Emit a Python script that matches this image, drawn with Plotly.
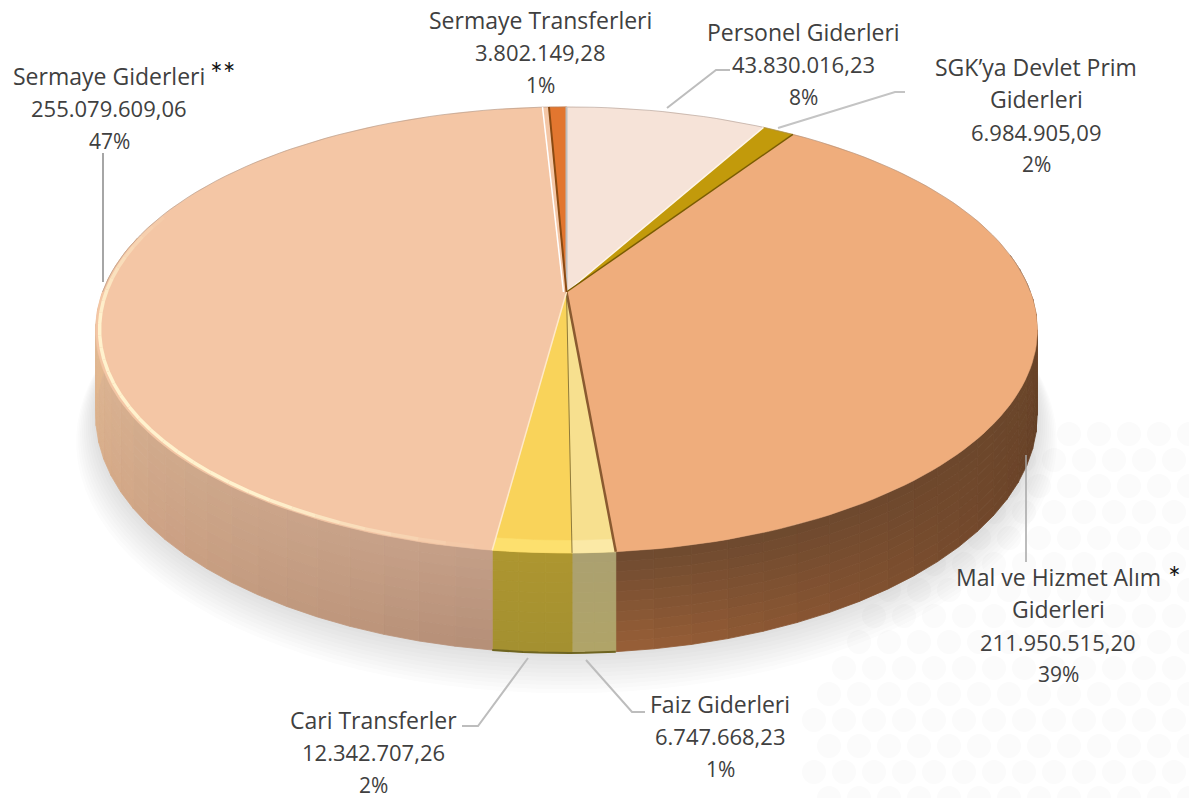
import math
import plotly.graph_objects as go

# ---------- data ----------
categories = ["Personel Giderleri", "SGK'ya Devlet Prim Giderleri", "Mal ve Hizmet Alım Giderleri",
              "Faiz Giderleri", "Cari Transferler", "Sermaye Giderleri", "Sermaye Transferleri"]
values = [43830016.23, 6984905.09, 211950515.20, 6747668.23, 12342707.26, 255079609.06, 3802149.28]
value_labels = ["43.830.016,23", "6.984.905,09", "211.950.515,20", "6.747.668,23",
                "12.342.707,26", "255.079.609,06", "3.802.149,28"]
percent_labels = ["8%", "2%", "39%", "1%", "2%", "47%", "1%"]
top_colors = ["#F6E3D8", "#C29A0B", "#EFAD7C", "#F7E08F", "#F9D35A", "#F4C6A5", "#E2762F"]

# ---------- geometry of the tilted disc (pixel space) ----------
CX, CY, A, B, K, H = 566.5, 292, 464, 216.6, 0.17, 83


def proj(deg, r=1.0, z=0.0):
    t = math.radians(deg)
    u, v = r * math.sin(t), -r * math.cos(t)
    w = 1 - K * v
    return CX + A * u / w, CY + (B * v + z) / w


def hex2rgb(c):
    return tuple(int(c[i:i + 2], 16) for i in (1, 3, 5))


def mix(c1, c2, t):
    a, b = hex2rgb(c1), hex2rgb(c2)
    return "rgb(%d,%d,%d)" % tuple(round(a[i] + (b[i] - a[i]) * t) for i in range(3))


def ramp(stops, x):
    if x <= stops[0][0]:
        return stops[0][1]
    for (x0, c0), (x1, c1) in zip(stops, stops[1:]):
        if x <= x1:
            c = mix(c0, c1, (x - x0) / (x1 - x0))
            return "#%02X%02X%02X" % tuple(int(p) for p in c[4:-1].split(","))
    return stops[-1][1]


wall_top = {
    2: [(90, "#6A4428"), (175, "#6E4A30")],
    3: [(0, "#ABA070")],
    4: [(0, "#AD9630")],
    5: [(188, "#C49F88"), (230, "#D0A98B"), (270, "#E6BE98")],
    0: [(0, "#E8D5C8")], 1: [(0, "#8A6E08")], 6: [(0, "#B05A20")],
}
wall_bot = {
    2: [(90, "#5A3A22"), (130, "#74492C"), (175, "#9A6038")],
    3: [(0, "#B0A468")],
    4: [(0, "#A49030")],
    5: [(188, "#B48E76"), (230, "#CCA184"), (270, "#E2B890")],
    0: [(0, "#E8D5C8")], 1: [(0, "#8A6E08")], 6: [(0, "#B05A20")],
}

total = sum(values)
edges = [0.0]
for val in values:
    edges.append(edges[-1] + val / total * 360)

fig = go.Figure()


def poly(xs, ys, color, lw=0.8):
    fig.add_trace(go.Scatter(x=xs, y=ys, mode="lines", fill="toself", fillcolor=color,
                             line=dict(color=color, width=lw), hoverinfo="skip", showlegend=False))


def line(xs, ys, color, width):
    fig.add_trace(go.Scatter(x=xs, y=ys, mode="lines", line=dict(color=color, width=width),
                             hoverinfo="skip", showlegend=False))


# faint honeycomb of the page background
gx, gy = [], []
for row_i in range(0, 16):
    for col in range(0, 20):
        px = 1189 - col * 30 - (row_i % 2) * 15
        py = 798 - row_i * 26
        if (px - 1189) ** 2 + (py - 798) ** 2 < 390 ** 2:
            gx.append(px)
            gy.append(py)
fig.add_trace(go.Scatter(x=gx, y=gy, mode="markers", marker=dict(size=24, color="#FBFBFB"),
                         hoverinfo="skip", showlegend=False))

# soft shadow
for i in range(10, 0, -1):
    pts = [proj(d, 1 + 0.004 * i, H + 2.2 * i) for d in range(0, 361, 3)]
    poly([p[0] for p in pts], [p[1] for p in pts], "rgba(60,60,60,0.016)", 0)

# side walls, split in short vertical strips
LAYERS = 10
for i in range(len(values)):
    s, e = max(edges[i], 80), min(edges[i + 1], 285)
    if e <= s:
        continue
    n = max(1, math.ceil((e - s) / 4))
    for j in range(n):
        d0, d1 = s + (e - s) * j / n, s + (e - s) * (j + 1) / n
        m = (d0 + d1) / 2
        ct, cb = ramp(wall_top[i], m), ramp(wall_bot[i], m)
        for l in range(LAYERS):
            z0, z1 = H * l / LAYERS, H * (l + 1) / LAYERS
            corners = [proj(d0, 1, z0), proj(d1, 1, z0), proj(d1, 1, z1), proj(d0, 1, z1), proj(d0, 1, z0)]
            poly([p[0] for p in corners], [p[1] for p in corners], mix(ct, cb, (l + 0.5) / LAYERS))

# bottom edge of the two yellow front slices
pts = [proj(edges[3] + (edges[5] - edges[3]) * j / 8, 1, H) for j in range(9)]
line([p[0] for p in pts], [p[1] for p in pts], "#6E6420", 2)

# top faces
for i, c in enumerate(top_colors):
    n = max(2, math.ceil((edges[i + 1] - edges[i]) / 1.5))
    pts = [proj(edges[i] + (edges[i + 1] - edges[i]) * j / n) for j in range(n + 1)]
    poly([CX] + [p[0] for p in pts] + [CX], [CY] + [p[1] for p in pts] + [CY], c, 0.5)

# lit bevel on the yellow slices
for i, c in ((3, "#FBE9A6"), (4, "#FDE06E")):
    n = 6
    o = [proj(edges[i] + (edges[i + 1] - edges[i]) * j / n, 1.0) for j in range(n + 1)]
    q = [proj(edges[i] + (edges[i + 1] - edges[i]) * j / n, 0.96) for j in range(n + 1)]
    poly([p[0] for p in o + q[::-1]], [p[1] for p in o + q[::-1]], c, 0.5)

# cream highlight on the front left rim
d = edges[5] + 2
while d < 290:
    a0 = min(1, (d - edges[5]) / 25) * min(1, (292 - d) / 30)
    seg = [proj(d, 0.992), proj(d + 3, 0.992)]
    line([p[0] for p in seg], [p[1] for p in seg], "rgba(255,244,208,%.2f)" % (0.95 * a0), 3.5)
    d += 3

# thin dark back rim
pts = [proj(d) for d in list(range(270, 360, 2)) + list(range(0, 91, 2))]
line([p[0] for p in pts], [p[1] for p in pts], "rgba(150,130,120,0.45)", 1)

# slice separators
sep = [(edges[0], "#BDBDBD", 2), (edges[1], "#FFF6EC", 1.5), (edges[2], "#7A5C00", 1.5),
       (edges[3], "#8A5A30", 2.5), (edges[4], "#8F7A3A", 1), (edges[5], "#FFE9C8", 1.5),
       (edges[6], "#8A4A12", 2)]
for deg, col, w in sep:
    p = proj(deg)
    line([CX, p[0]], [CY, p[1]], col, w)
p = proj(edges[6] - 0.5)
line([CX - 3, p[0] - 3], [CY, p[1]], "#FFFFFF", 1.5)

# leader lines
LC = "#A6A6A6"
line([103, 103], [153, 282], LC, 2)
line([667, 716, 730], [108, 70, 70], "#BDBDBD", 2)
line([778, 895, 905], [128, 92, 92], "#C4C4C4", 2)
line([1026, 1026], [455, 562], LC, 1.5)
line([586, 632, 645], [660, 712, 712], "#BDBDBD", 2)
line([528, 478, 462], [658, 726, 726], "#BDBDBD", 2)


# labels, one annotation per text row
def row(x, y, text, size=21, color="#404040", family="Open Sans, sans-serif"):
    fig.add_annotation(x=x, y=y, text=text, showarrow=False, xanchor="center", yanchor="middle",
                       font=dict(family=family, size=size, color=color))


def block(idx, x, y0, names, step=32.3):
    for n, t in enumerate(names):
        row(x, y0 + n * step, t, 23)
    row(x, y0 + len(names) * step, value_labels[idx], 22)
    row(x, y0 + (len(names) + 1) * step, percent_labels[idx], 21)


block(6, 540, 20, ["Sermaye Transferleri"])
block(0, 803, 32, ["Personel Giderleri"])
block(1, 1036, 67, ["SGK’ya Devlet Prim", "Giderleri"])
block(5, 109, 76, ["Sermaye Giderleri"])
block(2, 1058, 577, ["Mal ve Hizmet Alım", "Giderleri"])
block(3, 720, 704, ["Faiz Giderleri"])
block(4, 373, 720, ["Cari Transferler"])
row(223, 73, "**", 30, "#111111", "Lato, sans-serif")
row(1174, 577, "*", 30, "#111111", "Lato, sans-serif")

fig.update_layout(
    width=1189, height=798, margin=dict(l=0, r=0, t=0, b=0),
    paper_bgcolor="#FFFFFF", plot_bgcolor="#FFFFFF", showlegend=False,
    xaxis=dict(range=[0, 1189], visible=False, fixedrange=True),
    yaxis=dict(range=[798, 0], visible=False, fixedrange=True),
)
fig.write_html("out.html", post_script="document.body.style.margin='0';document.body.style.overflow='hidden';",
               config={"displayModeBar": False})
